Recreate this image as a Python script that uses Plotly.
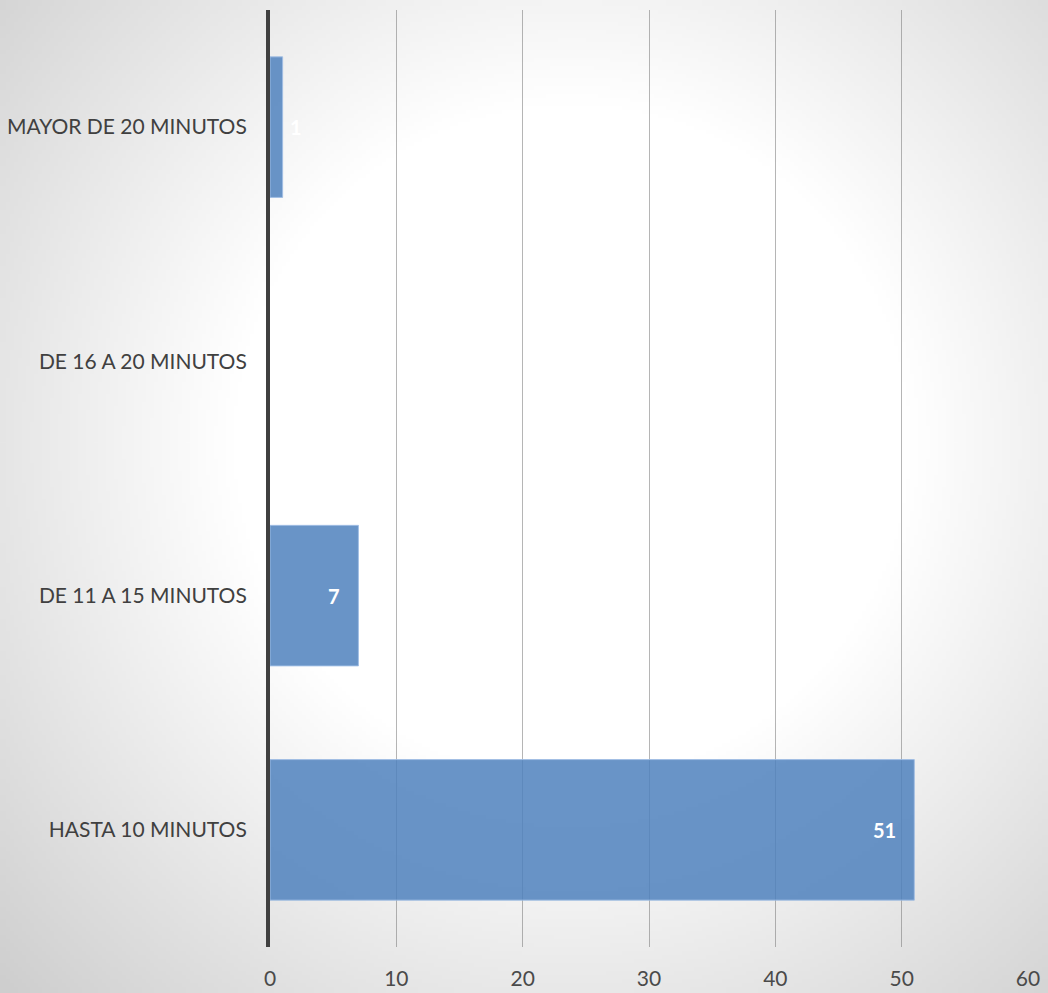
import base64
import struct
import zlib

import numpy as np
import plotly.graph_objects as go

# ---- data ----
categories = ["HASTA 10 MINUTOS", "DE 11 A 15 MINUTOS", "DE 16 A 20 MINUTOS", "MAYOR DE 20 MINUTOS"]
values = [51, 7, 0, 1]
x_ticks = [0, 10, 20, 30, 40, 50, 60]

W, H = 1048, 993
L, R, T, B = 270, 20, 10, 46


# ---- radial gradient background as PNG data URI ----
def gradient_png(w, h, cx, cy, r0, r1, c_in, c_out):
    yy, xx = np.mgrid[0:h, 0:w].astype(float)
    d = np.sqrt((xx - cx) ** 2 + (yy - cy) ** 2)
    t = np.clip((d - r0) / (r1 - r0), 0, 1)
    img = (c_in + (c_out - c_in) * t).astype(np.uint8)
    raw = b"".join(b"\x00" + img[i].tobytes() for i in range(h))

    def chunk(tag, data):
        c = struct.pack(">I", len(data)) + tag + data
        return c + struct.pack(">I", zlib.crc32(tag + data) & 0xFFFFFFFF)

    png = b"\x89PNG\r\n\x1a\n"
    png += chunk(b"IHDR", struct.pack(">IIBBBBB", w, h, 8, 0, 0, 0, 0))
    png += chunk(b"IDAT", zlib.compress(raw, 9))
    png += chunk(b"IEND", b"")
    return "data:image/png;base64," + base64.b64encode(png).decode()


scale = 4
bg = gradient_png(W // scale, H // scale, 570 / scale, 440 / scale, 340 / scale, 800 / scale, 255, 205)

line_colors = ["rgba(160,190,228,0.9)" if v > 0 else "rgba(0,0,0,0)" for v in values]

fig = go.Figure()
fig.add_trace(
    go.Bar(
        y=categories,
        x=values,
        orientation="h",
        marker=dict(color="rgba(79,129,189,0.85)", line=dict(color=line_colors, width=1)),
        hoverinfo="skip",
    )
)

px_per_unit = (W - L - R) / (x_ticks[-1] - x_ticks[0])
label_font = dict(family="Lato", size=20, color="white", weight="bold")
annotations = []
for c, v in zip(categories, values):
    if v == 0:
        continue
    if v * px_per_unit > 40:
        annotations.append(dict(x=v, y=c, text=str(v), xanchor="right", xshift=-16, showarrow=False,
                                font=label_font))
    else:
        annotations.append(dict(x=v, y=c, text=str(v), xanchor="left", xshift=5, showarrow=False,
                                font=label_font))

fig.update_layout(
    width=W,
    height=H,
    margin=dict(l=L, r=R, t=T, b=B),
    paper_bgcolor="#e8e8e8",
    plot_bgcolor="rgba(0,0,0,0)",
    showlegend=False,
    bargap=0.4,
    images=[dict(source=bg, xref="paper", yref="paper", x=-L / (W - L - R), y=1 + T / (H - T - B),
                 sizex=W / (W - L - R), sizey=H / (H - T - B), sizing="stretch",
                 xanchor="left", yanchor="top", layer="below")],
    annotations=annotations,
    font=dict(family="Lato", size=21, color="#404040"),
    xaxis=dict(
        range=[x_ticks[0], x_ticks[-1]],
        tickvals=x_ticks,
        showgrid=True,
        gridcolor="rgba(120,120,120,0.55)",
        gridwidth=1,
        zeroline=False,
        showline=False,
        ticks="",
        ticklabelstandoff=17,
        tickfont=dict(family="Lato", size=21, color="#4a4a4a"),
        automargin=False,
        fixedrange=True,
    ),
    yaxis=dict(
        categoryorder="array",
        categoryarray=categories,
        showgrid=False,
        zeroline=False,
        showline=True,
        linecolor="#404040",
        linewidth=4,
        ticks="",
        ticklabelstandoff=15,
        tickfont=dict(family="Lato", size=21, color="#404040"),
        automargin=False,
        fixedrange=True,
    ),
)

fig.write_html(
    "out.html",
    config={"displayModeBar": False},
    post_script="document.body.style.margin='0';document.body.style.overflow='hidden';",
)
